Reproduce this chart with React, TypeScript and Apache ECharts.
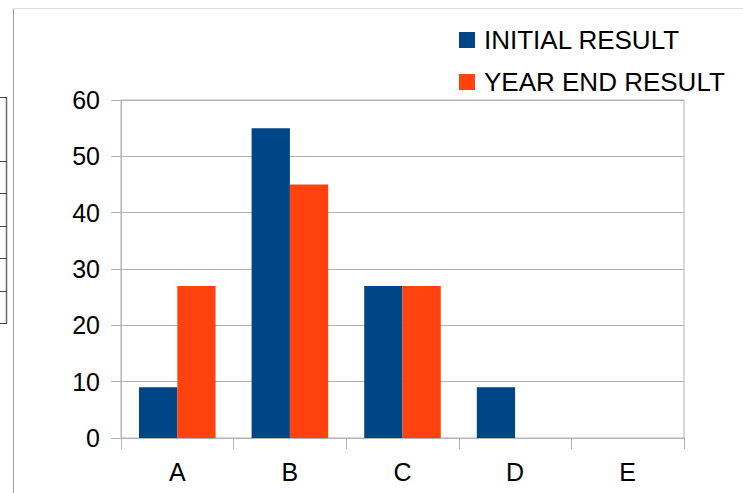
import React, { useEffect, useRef } from "react";
import * as echarts from "echarts";

const categories = ["A", "B", "C", "D", "E"];
const initialResult = [9, 55, 27, 9, 0];
const yearEndResult = [27, 45, 27, 0, 0];
const seriesNames = ["INITIAL RESULT", "YEAR END RESULT"];

export default function App() {
  const ref = useRef<HTMLDivElement>(null);
  useEffect(() => {
    if (!ref.current) return;
    const chart = echarts.init(ref.current, undefined, { renderer: "svg" });
    const gray = "#b3b3b3";
    const tableYs = [97, 161, 193, 226, 258, 291, 323];
    chart.setOption({
      animation: false,
      backgroundColor: "#ffffff",
      textStyle: { fontFamily: "Liberation Sans" },
      legend: {
        orient: "vertical",
        left: 459,
        top: 27,
        padding: 0,
        icon: "rect",
        itemWidth: 16,
        itemHeight: 16,
        itemGap: 16,
        textStyle: { fontSize: 26, color: "#000", fontFamily: "Liberation Sans", padding: [0, 0, 0, 4] },
        data: seriesNames,
      },
      grid: {
        left: 121,
        right: 59,
        top: 100,
        bottom: 55,
        show: true,
        borderColor: gray,
        borderWidth: 1,
      },
      xAxis: {
        type: "category",
        data: categories,
        axisLine: { lineStyle: { color: gray } },
        axisTick: { show: true, length: 11, lineStyle: { color: gray } },
        axisLabel: { fontSize: 25, color: "#000", margin: 21, fontFamily: "Liberation Sans" },
      },
      yAxis: {
        type: "value",
        min: 0,
        max: 60,
        interval: 10,
        axisLine: { show: true, lineStyle: { color: gray } },
        axisTick: { show: true, length: 10, lineStyle: { color: gray } },
        axisLabel: { fontSize: 25, color: "#000", margin: 21, fontFamily: "Liberation Sans" },
        splitLine: { lineStyle: { color: gray } },
      },
      series: [
        {
          name: seriesNames[0],
          type: "bar",
          data: initialResult,
          itemStyle: { color: "#004586" },
          barGap: "0%",
          barCategoryGap: "32%",
        },
        {
          name: seriesNames[1],
          type: "bar",
          data: yearEndResult,
          itemStyle: { color: "#ff420e" },
          barGap: "0%",
          barCategoryGap: "32%",
        },
      ],
      graphic: [
        { type: "line", shape: { x1: 13.5, y1: 8, x2: 13.5, y2: 493 }, style: { stroke: "#999", lineWidth: 1 } },
        { type: "line", shape: { x1: 13, y1: 8.5, x2: 743, y2: 8.5 }, style: { stroke: "#ddd", lineWidth: 1 } },
        { type: "line", shape: { x1: 6.5, y1: 97, x2: 6.5, y2: 323 }, style: { stroke: "#666", lineWidth: 1.5 } },
        ...tableYs.map((y) => ({
          type: "line",
          shape: { x1: 0, y1: y + 0.5, x2: 7, y2: y + 0.5 },
          style: { stroke: "#444", lineWidth: 1 },
        })),
      ],
    });
    return () => chart.dispose();
  }, []);
  return (
    <div
      ref={ref}
      style={{ position: "fixed", left: 0, top: 0, width: 743, height: 493 }}
    />
  );
}
